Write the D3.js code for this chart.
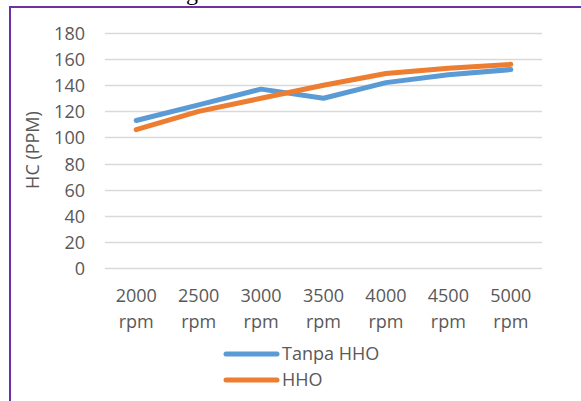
<!DOCTYPE html>
<html>
<head>
<meta charset="utf-8">
<script src="https://cdn.jsdelivr.net/npm/d3@7"></script>
<style>
  html, body { margin: 0; padding: 0; background: #fff; }
  svg { display: block; }
</style>
</head>
<body>
<svg id="chart" width="581" height="401"></svg>
<script>
// HC emission by engine speed, with and without HHO
const categories = ["2000 rpm", "2500 rpm", "3000 rpm", "3500 rpm", "4000 rpm", "4500 rpm", "5000 rpm"];
const tanpaHHO = [113, 125, 137, 130, 142, 148, 152];
const hho = [106, 120, 130, 140, 149, 153, 156];
const yTicks = [0, 20, 40, 60, 80, 100, 120, 140, 160, 180];
const seriesNames = ["Tanpa HHO", "HHO"];
const seriesColors = ["#5B9BD5", "#ED7D31"];

const svg = d3.select("#chart");
const font = "'Open Sans', 'DejaVu Sans', sans-serif";
const textColor = "#595959";

// caption text above the frame, mostly clipped by the page edge
svg.append("text")
  .attr("x", 30).attr("y", -0.2)
  .attr("font-family", "'Liberation Serif', 'Times New Roman', serif")
  .attr("font-size", 24)
  .attr("fill", "#000")
  .text("Emisi Gas Buang HC");

// frame around the chart
svg.append("path")
  .attr("d", "M10,401 V7 H581")
  .attr("fill", "none")
  .attr("stroke", "#7030A0")
  .attr("stroke-width", 2);

const x = d3.scaleBand().domain(categories).range([105, 542]);
const y = d3.scaleLinear().domain([0, 180]).range([268, 33]);

// horizontal gridlines
svg.append("g")
  .selectAll("line")
  .data(yTicks)
  .join("line")
  .attr("x1", 105).attr("x2", 542)
  .attr("y1", d => Math.round(y(d)) + 0.5)
  .attr("y2", d => Math.round(y(d)) + 0.5)
  .attr("stroke", "#D9D9D9")
  .attr("stroke-width", 1.3);

// y axis labels
const yAxis = d3.axisLeft(y).tickValues(yTicks).tickSize(0).tickPadding(0);
const yg = svg.append("g").attr("transform", "translate(85,0)").call(yAxis);
yg.select(".domain").remove();
yg.selectAll("text")
  .attr("font-family", font)
  .attr("font-size", 18)
  .attr("fill", textColor)
  .attr("dy", "0.36em");

// x axis labels, two lines per category
const xAxis = d3.axisBottom(x).tickSize(0).tickFormat("");
const xg = svg.append("g").attr("transform", "translate(0,268)").call(xAxis);
xg.select(".domain").remove();
xg.selectAll(".tick").each(function(d) {
  const parts = d.split(" ");
  const t = d3.select(this).append("text")
    .attr("font-family", font)
    .attr("font-size", 18)
    .attr("fill", textColor)
    .attr("text-anchor", "middle");
  parts.forEach((p, i) => {
    t.append("tspan").attr("x", 0).attr("y", 34 + i * 26).text(p);
  });
});

// axis title
svg.append("text")
  .attr("transform", "translate(39,150) rotate(-90)")
  .attr("text-anchor", "middle")
  .attr("font-family", font)
  .attr("font-size", 18)
  .attr("fill", textColor)
  .text("HC (PPM)");

// series lines
const line = d3.line()
  .x((d, i) => x(categories[i]) + x.bandwidth() / 2)
  .y(d => y(d));

[tanpaHHO, hho].forEach((vals, k) => {
  svg.append("path")
    .datum(vals)
    .attr("d", line)
    .attr("fill", "none")
    .attr("stroke", seriesColors[k])
    .attr("stroke-width", 5)
    .attr("stroke-linecap", "round")
    .attr("stroke-linejoin", "round");
});

// legend
const legend = svg.append("g");
seriesNames.forEach((name, k) => {
  const ly = 354 + k * 26;
  legend.append("line")
    .attr("x1", 226).attr("x2", 277)
    .attr("y1", ly).attr("y2", ly)
    .attr("stroke", seriesColors[k])
    .attr("stroke-width", 5)
    .attr("stroke-linecap", "round");
  legend.append("text")
    .attr("x", 282).attr("y", ly)
    .attr("dy", "0.36em")
    .attr("font-family", font)
    .attr("font-size", 18)
    .attr("fill", textColor)
    .text(name);
});
</script>
</body>
</html>
